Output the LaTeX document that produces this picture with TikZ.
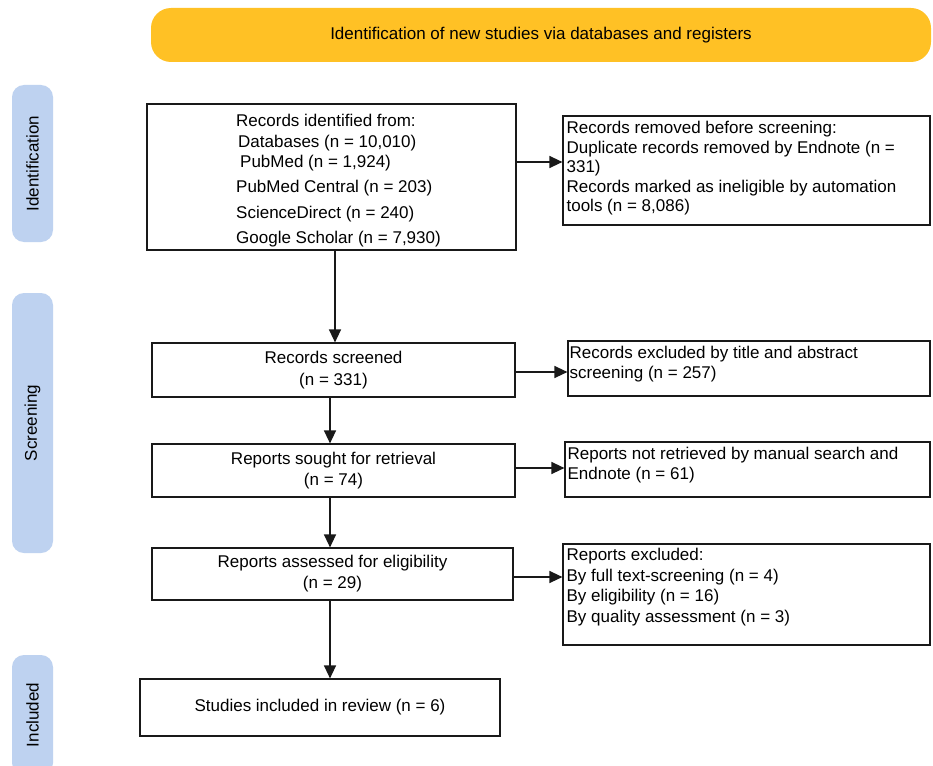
\documentclass[tikz,border=0pt]{standalone}
\usepackage{fontspec}
\setmainfont{Liberation Sans}
\usetikzlibrary{arrows.meta}
\definecolor{bannerY}{RGB}{255,193,37}
\definecolor{sideB}{RGB}{190,210,240}
\definecolor{lineC}{RGB}{25,25,25}
\tikzset{
  box/.style={draw=lineC, line width=1.2pt, inner sep=0pt, align=center,
    font=\fontsize{17}{21}\selectfont},
  txt/.style={inner sep=0pt, align=left, anchor=north west,
    font=\fontsize{17}{20}\selectfont},
  side/.style={fill=sideB, rounded corners=12pt, minimum height=41pt, rotate=90,
    inner sep=0pt, font=\fontsize{17}{20}\selectfont},
  arr/.style={draw=lineC, line width=1.3pt, -{Triangle[length=13pt,width=12pt]}}
}
\begin{document}
\begin{tikzpicture}[x=1pt,y=-1pt]
\useasboundingbox (0,0) rectangle (933,765);
\fill[white] (0,0) rectangle (933,765);
% banner
\node[fill=bannerY, rounded corners=20pt, minimum width=780pt, minimum height=54pt,
  inner sep=0pt, font=\fontsize{17}{20}\selectfont] (banner) at (541,35)
  {Identification of new studies via databases and registers};
% side labels
\node[side, minimum width=157pt] (sid) at (32.5,163.5) {Identification};
\node[side, minimum width=260pt] (sscr) at (32.5,423) {Screening};
\begin{scope}
\clip (0,0) rectangle (933,765);
\node[side, minimum width=120pt] (sinc) at (32.5,715) {Included};
\end{scope}
% boxes
\node[box, minimum width=369pt, minimum height=146pt] (b1) at (331.5,177) {};
\node[txt, font=\fontsize{17}{20.5}\selectfont] (t1) at (236,114) {Records identified from:\\
\hspace*{2pt}Databases (n = 10,010)\\
\hspace*{4pt}PubMed (n = 1,924)\\[4.5pt]
PubMed Central (n = 203)\\[5pt]
ScienceDirect (n = 240)\\[4.5pt]
Google Scholar (n = 7,930)};
\node[box, minimum width=367pt, minimum height=109pt] (b2) at (746.5,170.5) {};
\node[txt, font=\fontsize{17}{19.5}\selectfont] (t2) at ([xshift=4pt,yshift=-6pt]b2.north west)
 {Records removed before screening:\\
 Duplicate records removed by Endnote (n =\\
 331)\\
 Records marked as ineligible by automation\\
 tools (n = 8,086)};
\node[box, minimum width=363pt, minimum height=54pt] (b3) at (333.5,370)
 {Records screened\\[1pt](n = 331)};
\node[box, minimum width=362pt, minimum height=55pt] (b4) at (749,368.5) {};
\node[txt] (t4) at ([xshift=2pt,yshift=-6pt]b4.north west)
 {Records excluded by title and abstract\\screening (n = 257)};
\node[box, minimum width=363pt, minimum height=53pt] (b5) at (333.5,470.5)
 {Reports sought for retrieval\\(n = 74)};
\node[box, minimum width=365pt, minimum height=55pt] (b6) at (747.5,469.5) {};
\node[txt] (t6) at ([xshift=3pt,yshift=-6pt]b6.north west)
 {Reports not retrieved by manual search and\\Endnote (n = 61)};
\node[box, minimum width=361pt, minimum height=52pt] (b7) at (332.5,574)
 {Reports assessed for eligibility\\(n = 29)};
\node[box, minimum width=367pt, minimum height=101pt] (b8) at (746.5,594.5) {};
\node[txt, font=\fontsize{17}{20.5}\selectfont] (t8) at ([xshift=4pt,yshift=-5pt]b8.north west)
 {Reports excluded:\\By full text-screening (n = 4)\\By eligibility (n = 16)\\By quality assessment (n = 3)};
\node[box, minimum width=360pt, minimum height=57pt] (b9) at (320,707.5)
 {Studies included in review (n = 6)};
% arrows
\draw[arr] (b1.east |- 0,162) -- (b2.west |- 0,162);
\draw[arr] (b3.east |- 0,372) -- (b4.west |- 0,372);
\draw[arr] (b5.east |- 0,468) -- (b6.west |- 0,468);
\draw[arr] (b7.east |- 0,577) -- (b8.west |- 0,577);
\draw[arr] (b1.south -| 335,0) -- (b3.north -| 335,0);
\draw[arr] (b3.south -| 330,0) -- (b5.north -| 330,0);
\draw[arr] (b5.south -| 330,0) -- (b7.north -| 330,0);
\draw[arr] (b7.south -| 330,0) -- (b9.north -| 330,0);
\end{tikzpicture}
\end{document}
